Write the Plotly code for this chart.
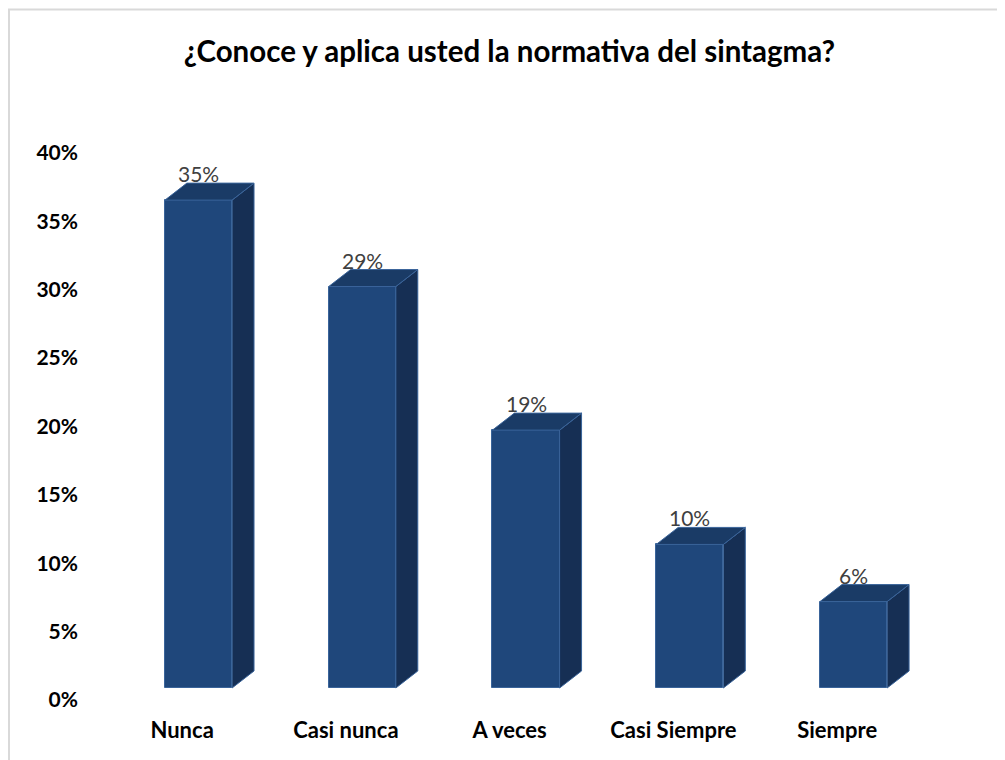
import plotly.graph_objects as go

# ==== datos ====
categorias = ["Nunca", "Casi nunca", "A veces", "Casi Siempre", "Siempre"]
porcentajes = [35.0, 28.8, 18.5, 10.3, 6.2]
etiquetas = ["35%", "29%", "19%", "10%", "6%"]
titulo = "¿Conoce y aplica usted la normativa del sintagma?"

# estilo de la barra 3D
ancho = 0.41      # ancho de la cara frontal (unidades de categoria)
prof_x = 0.134    # desplazamiento de profundidad en x
prof_y = 1.22     # desplazamiento de profundidad en y (%)
col_frente = "#1F477B"
col_techo = "#1A3B66"
col_lado = "#162F54"
col_borde = "#3A649A"
fuente = "Lato"

pos = list(range(len(categorias)))

# caras laterales y superiores como poligonos
lado_x, lado_y, techo_x, techo_y = [], [], [], []
for c, v in zip(pos, porcentajes):
    r = c + ancho / 2
    l = c - ancho / 2
    lado_x += [r, r + prof_x, r + prof_x, r, r, None]
    lado_y += [0, prof_y, v + prof_y, v, 0, None]
    techo_x += [l, r, r + prof_x, l + prof_x, l, None]
    techo_y += [v, v, v + prof_y, v + prof_y, v, None]

fig = go.Figure()

# traza invisible para que se dibuje el eje y con los porcentajes
fig.add_trace(go.Scatter(
    x=pos, y=[0] * len(pos), mode="markers", marker=dict(opacity=0),
    xaxis="x", yaxis="y", hoverinfo="skip", showlegend=False,
))
fig.add_trace(go.Scatter(
    x=lado_x, y=lado_y, mode="lines", fill="toself",
    fillcolor=col_lado, line=dict(color=col_borde, width=1),
    xaxis="x", yaxis="y2", hoverinfo="skip", showlegend=False,
))
fig.add_trace(go.Scatter(
    x=techo_x, y=techo_y, mode="lines", fill="toself",
    fillcolor=col_techo, line=dict(color=col_borde, width=1),
    xaxis="x", yaxis="y2", hoverinfo="skip", showlegend=False,
))
fig.add_trace(go.Bar(
    x=pos, y=porcentajes, width=ancho,
    marker=dict(color=col_frente, line=dict(color=col_borde, width=1)),
    xaxis="x", yaxis="y2", showlegend=False,
    customdata=etiquetas,
    hovertemplate="%{customdata}<extra></extra>",
))

# etiquetas de datos sobre cada barra
anotaciones = []
for c, v, t in zip(pos, porcentajes, etiquetas):
    anotaciones.append(dict(
        x=c, y=v + prof_y, xref="x", yref="y2", text=t, showarrow=False,
        xanchor="center", yanchor="bottom", yshift=-5,
        font=dict(family=fuente, size=21, color="#404040"),
    ))

# la pagina deja 8px de margen: la figura ocupa 997x752
fig.update_layout(
    width=997, height=752,
    paper_bgcolor="white", plot_bgcolor="white",
    margin=dict(l=82, r=45, t=145, b=60),
    title=dict(text=titulo, x=0.503, xanchor="center",
               y=1 - 44 / 752, yanchor="middle", yref="container",
               font=dict(family=fuente, size=29.5, color="black", weight="bold")),
    xaxis=dict(range=[-0.6626, 4.65], tickvals=[p - 0.1 for p in pos],
               ticktext=categorias,
               showgrid=False, zeroline=False, showline=False, ticks="",
               ticklabelstandoff=15,
               tickfont=dict(family=fuente, size=22, color="black", weight="bold")),
    yaxis=dict(range=[0, 40], dtick=5, ticksuffix="%", showgrid=False,
               zeroline=False, showline=False, ticks="",
               ticklabelstandoff=11,
               tickfont=dict(family=fuente, size=21, color="black", weight="bold")),
    yaxis2=dict(range=[-0.86, 38.38], overlaying="y", visible=False),
    bargap=0,
    annotations=anotaciones,
    shapes=[dict(type="rect", xref="paper", yref="paper",
                 x0=-81 / 870, x1=1.2, y0=-0.3, y1=(692 - 1.5) / 547,
                 line=dict(color="#D9D9D9", width=2), layer="below")],
)

fig.write_html("out.html")
